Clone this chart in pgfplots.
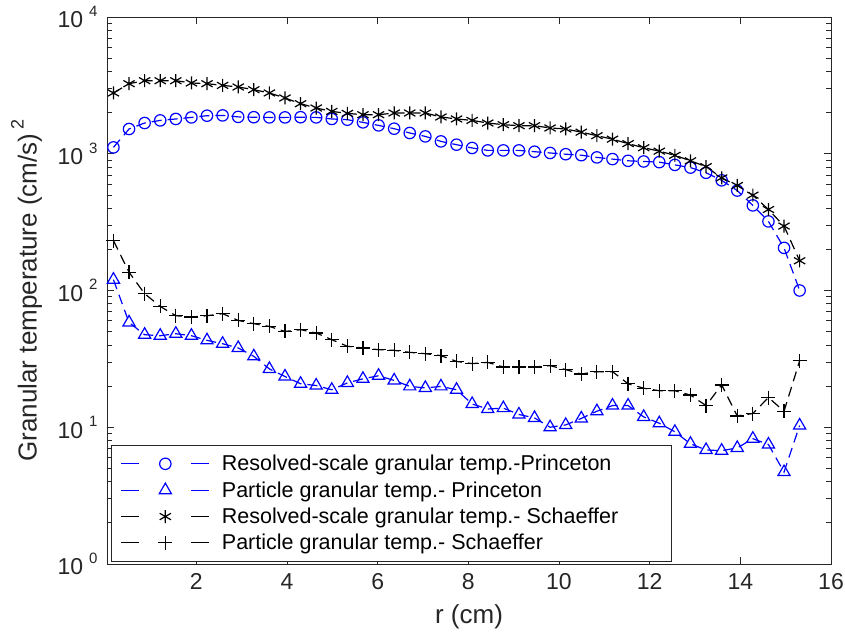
\documentclass[border=0pt]{standalone}
\usepackage{pgfplots}
\pgfplotsset{compat=1.18}
\usepackage{pgfplotstable}
\usepackage{fontspec}
\setmainfont{Liberation Sans}
\definecolor{axgray}{rgb}{0.15,0.15,0.15}
\definecolor{mblue}{rgb}{0,0,1}

\pgfplotstableread{
r a b c d
0.172 1113 120 2782 232
0.516 1517 58.4 3253 136
0.860 1678 47.5 3421 94.8
1.204 1753 46.7 3421 76.5
1.548 1796 48.3 3421 65.4
1.892 1844 46.7 3292 64.0
2.236 1898 43.2 3253 65.4
2.580 1907 40.8 3161 67.7
2.924 1860 38.0 3077 60.4
3.268 1850 33.0 2940 57.2
3.612 1844 26.7 2782 54.6
3.956 1844 23.5 2557 50.2
4.300 1850 20.8 2323 51.7
4.644 1844 20.2 2160 48.9
4.988 1796 18.8 2040 43.7
5.332 1774 21.1 1973 39.1
5.676 1696 22.6 1930 38.0
6.020 1612 23.8 1930 36.9
6.364 1525 22.0 1986 36.5
6.708 1418 19.9 1986 35.3
7.052 1339 19.4 1986 34.5
7.396 1231 19.9 1857 33.4
7.740 1165 18.8 1796 30.3
8.084 1102 14.8 1753 29.2
8.428 1058 13.6 1678 29.8
8.772 1058 13.8 1631 27.6
9.116 1058 12.4 1604 27.6
9.460 1035 11.7 1604 27.6
9.804 1013 10.0 1543 28.2
10.148 992 10.4 1517 26.4
10.492 976 11.6 1438 24.5
10.836 940 13.1 1355 25.5
11.180 914 14.4 1278 25.5
11.524 888 14.4 1186 20.8
11.868 878 11.9 1107 19.3
12.212 868 10.7 1044 18.5
12.556 829 9.26 974 18.5
12.900 792 7.57 888 17.2
13.244 726 6.82 805 14.4
13.588 639 6.74 666 20.4
13.932 538 7.06 586 12.1
14.276 419 8.25 498 12.6
14.620 320 7.48 391 16.5
14.964 205 4.70 296 13.1
15.308 100 10.3 165 30.6
}\datatable

\newcommand{\supnum}[1]{10\hspace{6bp}\raisebox{0.5em}{\fontsize{15bp}{15bp}\selectfont #1}}

\begin{document}
\begin{tikzpicture}
\useasboundingbox (-107bp,-80bp) rectangle (738bp,564bp);
\begin{semilogyaxis}[
  scale only axis, width=724bp, height=547bp,
  at={(0,0)}, anchor=south west,
  xmin=0.03, xmax=16, ymin=1, ymax=10000,
  xtick={2,4,...,16},
  ytick={1,10,100,1000,10000},
  yticklabels={{\supnum{0}},{\supnum{1}},{\supnum{2}},{\supnum{3}},{\supnum{4}}},
  tick align=inside,
  major tick length=7bp, minor tick length=5bp,
  axis line style={axgray, line width=0.8bp},
  every tick/.style={axgray, line width=0.8bp},
  tick label style={font=\fontsize{23bp}{27bp}\selectfont, text=axgray},
  /pgf/number format/assume math mode=true,
  xticklabel style={yshift=-6bp},
  yticklabel style={xshift=-6bp},
  label style={font=\fontsize{26bp}{30bp}\selectfont, text=axgray},
  xlabel={r (cm)},
  ylabel={Granular temperature (cm/s)\hspace{4bp}\raisebox{0.5em}{\fontsize{18bp}{18bp}\selectfont 2}},
  xlabel style={at={(axis description cs:0.5,-0.097)}, anchor=center},
  ylabel style={at={(axis description cs:-0.111,0.5)}, anchor=center},
  legend style={at={(axis description cs:0.006,0.004)}, anchor=south west,
    draw=axgray, line width=0.8bp, fill=white,
    font=\fontsize{21.5bp}{25bp}\selectfont, text=black,
    inner xsep=9bp, inner ysep=8bp, row sep=5.3bp,
    /tikz/every odd column/.append style={column sep=10bp}},
  legend cell align=left,
  legend image code/.code={%
    \draw[#1, mark=none, dash pattern=on 18bp off 52bp] (0bp,0bp) -- (88bp,0bp);
    \draw[#1, only marks] plot coordinates {(44bp,0bp)};},
  every axis plot/.append style={line width=1.2bp, dash pattern=on 10bp off 6bp},
]
\addplot[mblue, mark=o, mark size=5.7bp, mark options={solid}] table[x=r,y=a] {\datatable};
\addlegendentry{Resolved-scale granular temp.-Princeton}
\addplot[mblue, mark=triangle, mark size=7bp, mark options={solid}] table[x=r,y=b] {\datatable};
\addlegendentry{Particle granular temp.- Princeton}
\addplot[black, mark=asterisk, mark size=6.5bp, mark options={solid}] table[x=r,y=c] {\datatable};
\addlegendentry{\makebox[438bp][l]{Resolved-scale granular temp.- Schaeffer}}
\addplot[black, mark=+, mark size=7bp, mark options={solid}] table[x=r,y=d] {\datatable};
\addlegendentry{Particle granular temp.- Schaeffer}
\end{semilogyaxis}
\end{tikzpicture}
\end{document}
